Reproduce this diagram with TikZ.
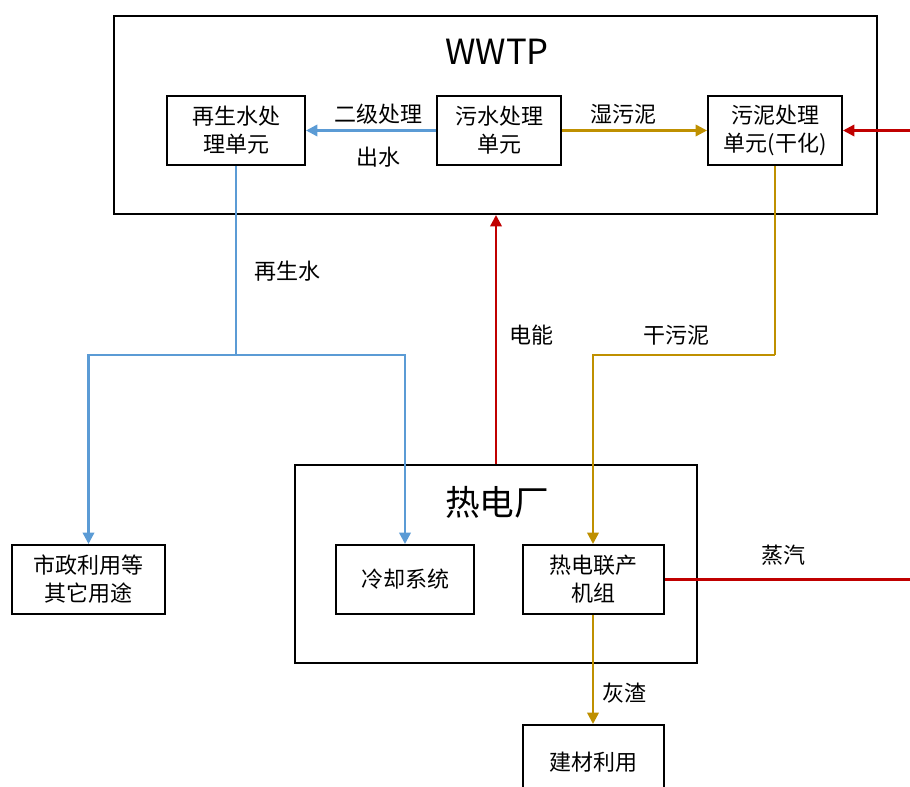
\documentclass[tikz,border=0pt]{standalone}
\usepackage{fontspec}
\setmainfont{Noto Sans CJK SC}
\usetikzlibrary{arrows.meta}
\definecolor{cblue}{RGB}{91,155,213}
\definecolor{cgold}{RGB}{191,144,0}
\definecolor{cred}{RGB}{192,0,0}
\tikzset{
  box/.style={draw=black, line width=1.5pt, inner sep=0pt, align=center,
    font=\fontsize{16.5}{21}\selectfont, minimum height=51.75pt},
  bigbox/.style={draw=black, line width=1.5pt, inner sep=0pt},
  lbl/.style={font=\fontsize{16.5}{21}\selectfont, inner sep=0pt},
  title/.style={font=\fontsize{26}{30}\selectfont, inner sep=0pt},
  flow/.style={line width=1.8pt},
  arr/.style={flow, -{Triangle[length=8.5pt,width=8.5pt]}},
}
\begin{document}
\begin{tikzpicture}[x=0.75pt,y=-0.75pt]
\useasboundingbox (0,0) rectangle (910,787);
% containers
\node[bigbox, minimum width=572.25pt, minimum height=148.5pt] (wwtp) at (495.5,115) {};
\node[title] (wwtpt) at (497,52) {WWTP};
\node[bigbox, minimum width=301.5pt, minimum height=148.5pt] (rdc) at (496,564) {};
\node[title] (rdct) at (497,502) {热电厂};
% inner boxes
\node[box, minimum width=103.5pt] (rs) at (236,130.5) {再生水处\\理单元};
\node[box, minimum width=93pt] (ws) at (499,130.5) {污水处理\\单元};
\node[box, minimum width=100.5pt] (wn) at (775,130.5) {污泥处理\\单元(干化)};
\node[box, minimum width=114.75pt] (sz) at (88.5,579.5) {市政利用等\\其它用途};
\node[box, minimum width=103.5pt] (lq) at (405,579.5) {冷却系统};
\node[box, minimum width=105.75pt] (rd) at (593,579.5) {热电联产\\机组};
\node[box, minimum width=105.75pt, minimum height=69pt, anchor=north] (jc) at (593,724) {\raisebox{14pt}{建材利用}};
% helper coordinates
\coordinate (h1) at (0,355);
\coordinate (rin) at (910,130.5);
\coordinate (sout) at (910,579.5);
\coordinate (j1) at (rs.south |- h1);
\coordinate (g1) at (wn.south |- h1);
% connectors
\draw[arr, cblue] (ws.west) -- (rs.east);
\draw[arr, cgold] (ws.east) -- (wn.west);
\draw[arr, cred] (rin) -- (wn.east);
\draw[flow, cblue] (rs.south) -- (j1);
\draw[arr, cblue] (j1) -| (sz.north);
\draw[arr, cblue] (j1) -| (lq.north);
\draw[arr, cred] (rdc.north) -- (rdc.north |- wwtp.south);
\draw[flow, cgold] (wn.south) -- (g1);
\draw[arr, cgold] (g1) -| (rd.north);
\draw[flow, cred] (rd.east) -- (sout);
\draw[arr, cgold] (rd.south) -- (jc.north);
% labels
\node[lbl] (l1) at (378,114) {二级处理};
\node[lbl] (l2) at (378,157) {出水};
\node[lbl] (l3) at (623,114) {湿污泥};
\node[lbl] (l4) at (287,271) {再生水};
\node[lbl] (l5) at (531,335) {电能};
\node[lbl] (l6) at (676,335) {干污泥};
\node[lbl] (l7) at (783,555) {蒸汽};
\node[lbl] (l8) at (624,693) {灰渣};
\end{tikzpicture}
\end{document}
